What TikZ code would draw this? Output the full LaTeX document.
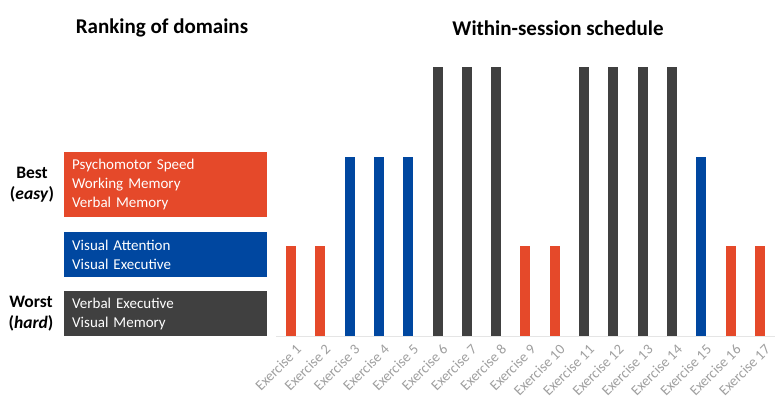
\documentclass[tikz,border=0pt]{standalone}
\usepackage{fontspec}
\setmainfont{Carlito}
\usetikzlibrary{positioning}
\definecolor{domred}{HTML}{E5492A}
\definecolor{domblue}{HTML}{0047A0}
\definecolor{domgray}{HTML}{404040}

\begin{document}
\begin{tikzpicture}[
    x=1pt, y=-1pt,
    dombox/.style={anchor=north west, minimum width=203pt, text width=187pt,
                   inner xsep=8pt, inner ysep=0pt, align=left, text=white,
                   font=\fontsize{15}{19}\selectfont},
    ranklbl/.style={font=\fontsize{17.5}{21}\selectfont\bfseries, align=center},
    sectitle/.style={font=\fontsize{21}{24}\selectfont\bfseries},
    barbox/.style={anchor=south, minimum width=10pt, inner sep=0pt},
    exlbl/.style={font=\fontsize{14.5}{16}\selectfont, text=gray!75,
                  rotate=45, anchor=north east, inner sep=1pt}
  ]
  \useasboundingbox (0,0) rectangle (783,408);

  % Titles
  \node[sectitle] (rktitle) at (162, 28) {Ranking of domains};
  \node[sectitle] (schtitle) at (558, 28) {Within-session schedule};

  % Ranking of domains
  \node[dombox, fill=domred, minimum height=65pt] (easy) at (64, 152)
    {Psychomotor Speed\\Working Memory\\Verbal Memory};
  \node[dombox, fill=domblue, minimum height=45pt] (mid) at (64, 232)
    {Visual Attention\\Visual Executive};
  \node[dombox, fill=domgray, minimum height=45pt] (hard) at (64, 291)
    {Verbal Executive\\Visual Memory};

  \node[ranklbl] (best) at (32, 184.5) {Best\\(\textit{easy})};
  \node[ranklbl] (worst) at (31, 313.5) {Worst\\(\textit{hard})};

  % Axis
  \draw[gray!20, line width=1pt] (276, 336.5) -- (775, 336.5);

  % Bars and labels
  \foreach \col/\h [count=\i] in {domred/90, domred/90, domblue/179,
      domblue/179, domblue/179, domgray/269, domgray/269, domgray/269,
      domred/90, domred/90, domgray/269, domgray/269, domgray/269,
      domgray/269, domblue/179, domred/90, domred/90} {
    \pgfmathsetmacro{\bx}{291+(\i-1)*29.31}
    \node[barbox, fill=\col, minimum height=\h pt] (bar\i) at (\bx, 336) {};
    \node[exlbl] (ex\i) at (\bx+4, 342) {Exercise \i};
  }
\end{tikzpicture}
\end{document}
